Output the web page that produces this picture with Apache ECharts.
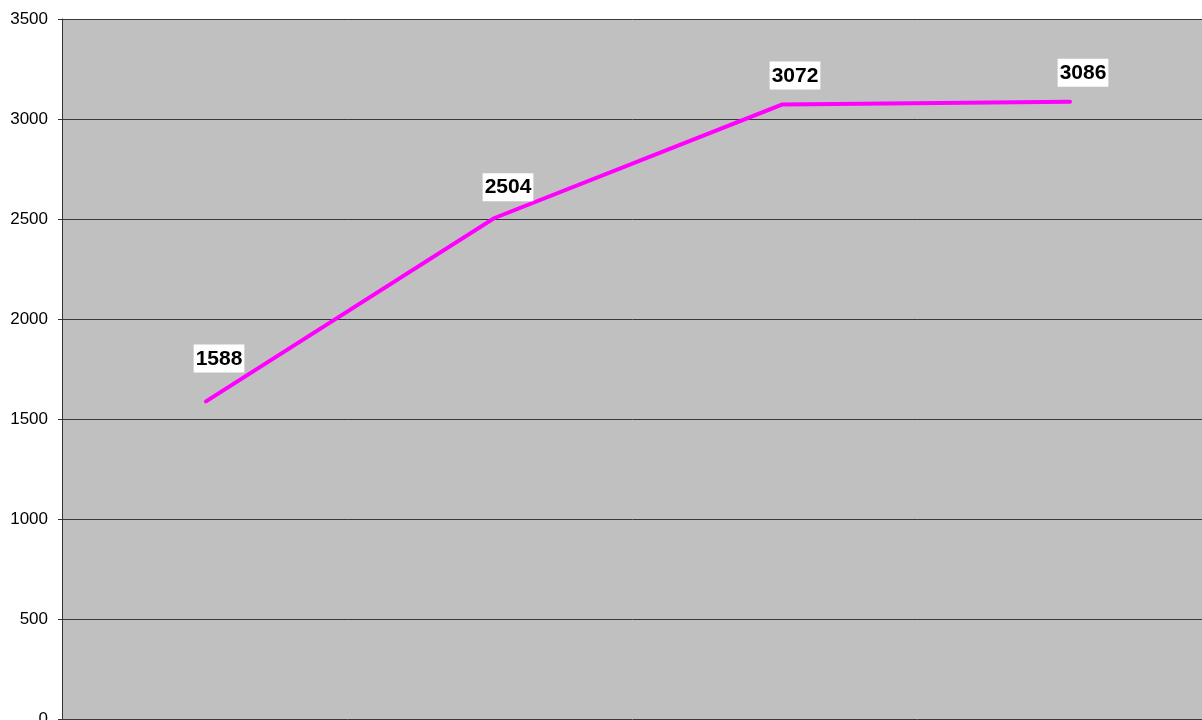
<!DOCTYPE html>
<html>
<head>
<meta charset="utf-8">
<script src="https://cdn.jsdelivr.net/npm/echarts@6/dist/echarts.min.js"></script>
<style>
html,body{margin:0;padding:0;background:#fff;}
#c{width:1202px;height:720px;}
</style>
</head>
<body>
<div id="c"></div>
<script>
const categories = ['1', '2', '3', '4'];
const values = [1588, 2504, 3072, 3086];
const yTicks = [0, 500, 1000, 1500, 2000, 2500, 3000, 3500];
const labelOffsets = [[13, -29], [14, -17], [13, -15], [13, -15]];

const chart = echarts.init(document.getElementById('c'), null, {renderer: 'canvas'});
const font = '"Liberation Sans", Arial, sans-serif';
chart.setOption({
  animation: false,
  backgroundColor: '#ffffff',
  grid: {left: 62, right: -12, top: 19, bottom: 1, show: true, backgroundColor: '#c0c0c0', borderWidth: 0,
         containLabel: false, outerBoundsMode: 'none'},
  xAxis: {
    type: 'category',
    data: categories,
    boundaryGap: true,
    axisLine: {show: false},
    axisTick: {show: false},
    axisLabel: {show: false},
    splitLine: {show: false}
  },
  yAxis: {
    type: 'value',
    min: yTicks[0],
    max: yTicks[yTicks.length - 1],
    interval: 500,
    axisLine: {show: true, lineStyle: {color: '#333333', width: 1}},
    axisTick: {show: true, length: 4, lineStyle: {color: '#333333'}},
    axisLabel: {color: '#000', fontSize: 17, fontFamily: font, margin: 14,
                formatter: v => String(v)},
    splitLine: {show: true, lineStyle: {color: '#383838', width: 1}}
  },
  series: [{
    type: 'line',
    data: values.map((v, i) => ({
      value: v,
      label: {offset: labelOffsets[i]}
    })),
    showSymbol: true,
    symbol: 'circle',
    symbolSize: 0.01,
    lineStyle: {color: '#ff00ff', width: 4, cap: 'round', join: 'miter'},
    itemStyle: {color: '#ff00ff'},
    label: {
      show: true,
      position: 'top',
      distance: 0,
      color: '#000',
      fontWeight: 'bold',
      fontSize: 21,
      fontFamily: font,
      backgroundColor: '#ffffff',
      padding: [4, 2, 3, 2],
      formatter: p => String(p.value)
    }
  }]
});
</script>
</body>
</html>
